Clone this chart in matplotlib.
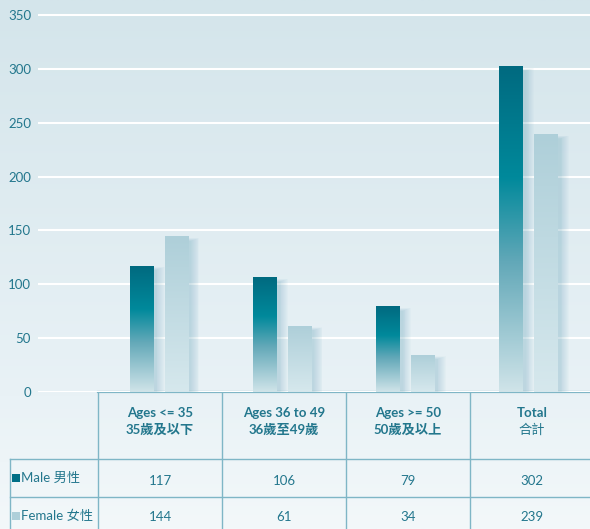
import matplotlib

matplotlib.use("Agg")
import matplotlib.pyplot as plt
import numpy as np
from matplotlib.colors import LinearSegmentedColormap
from matplotlib.patches import Rectangle

plt.rcParams["font.family"] = ["Lato", "Noto Sans CJK TC", "DejaVu Sans"]

# data
groups_en = ["Ages <= 35", "Ages 36 to 49", "Ages >= 50", "Total"]
groups_zh = ["35歲及以下", "36歲至49歲", "50歲及以上", "合計"]
male = [117, 106, 79, 302]
female = [144, 61, 34, 239]
series_labels = ["Male 男性", "Female 女性"]
yticks = [0, 50, 100, 150, 200, 250, 300, 350]

W, H = 590, 529
TEXT = "#23778d"
LINE = "#7fb6c6"
MALE_SOLID = "#006f86"
FEMALE_SOLID = "#aecfd9"

male_cmap = LinearSegmentedColormap.from_list(
    "male", [(0.0, "#d0e4e9"), (0.4, "#62a8b8"), (0.66, "#00899b"), (1.0, "#006a80")]
)
female_cmap = LinearSegmentedColormap.from_list("female", [(0.0, "#d6e8ed"), (1.0, "#aecfd9")])
bg_cmap = LinearSegmentedColormap.from_list(
    "bg", [(0.0, "#d4e5eb"), (0.75, "#e9f2f6"), (1.0, "#f3f8fa")]
)

fig = plt.figure(figsize=(W / 100, H / 100), dpi=100)

# background, pixel coordinates
bg = fig.add_axes([0, 0, 1, 1], zorder=0)
grad = np.linspace(0, 1, 256).reshape(-1, 1)
bg.imshow(grad, cmap=bg_cmap, aspect="auto", extent=[0, W, H, 0])
bg.set_xlim(0, W)
bg.set_ylim(H, 0)
bg.axis("off")

# chart axes
px_per_unit = 124.0
ax_left = 38
x_lo = -0.5 - (98 - ax_left) / px_per_unit
ax = fig.add_axes([ax_left / W, (H - 392) / H, (W - ax_left) / W, 379 / H], zorder=1)
ax.set_facecolor("none")

bar_w = 24 / px_per_unit
offset = 17.5 / px_per_unit
vgrad = np.linspace(0, 1, 256).reshape(-1, 1)


def draw_bar(xc, h, cmap):
    x0 = xc - bar_w / 2
    # soft shadow, stacked translucent layers
    for k in range(1, 11):
        ax.add_patch(
            Rectangle(
                (x0 + 2 / px_per_unit, 0),
                bar_w + k * 0.9 / px_per_unit,
                max(h - 4 + k * 0.3, 0),
                facecolor="#5a9fb4",
                edgecolor="none",
                alpha=0.03,
                zorder=2,
            )
        )
    ax.imshow(
        vgrad, cmap=cmap, aspect="auto", origin="lower",
        extent=[x0, x0 + bar_w, 0, h], zorder=3,
    )


for i in range(len(groups_en)):
    draw_bar(i - offset, male[i], male_cmap)
    draw_bar(i + offset, female[i], female_cmap)

ax.set_xlim(x_lo, 3.5)
ax.set_ylim(0, 352)
ax.set_yticks(yticks)
ax.set_xticks([])
ax.tick_params(axis="y", length=0, pad=5, labelcolor=TEXT, labelsize=9.5)
ax.yaxis.grid(True, color="white", linewidth=1.5)
ax.set_axisbelow(True)
for s in ax.spines.values():
    s.set_visible(False)

# table, drawn in pixel coordinates on the background axes
col_edges = [98 + px_per_unit * i for i in range(len(groups_en) + 1)]
top_y, row1_y, row2_y = 392, 459, 497
bg.plot([98, W], [top_y, top_y], color=LINE, lw=1.6, zorder=5)
bg.plot([10, W], [row1_y, row1_y], color=LINE, lw=1.0, zorder=5)
bg.plot([10, W], [row2_y, row2_y], color=LINE, lw=1.0, zorder=5)
bg.plot([10, 10], [row1_y, H], color=LINE, lw=1.0, zorder=5)
for xe in col_edges[:-1]:
    bg.plot([xe, xe], [top_y, H], color=LINE, lw=1.0, zorder=5)

for i in range(len(groups_en)):
    xc = (col_edges[i] + col_edges[i + 1]) / 2
    bg.text(xc, 413, groups_en[i], ha="center", va="center", fontsize=9.5,
            fontweight="bold", color=TEXT, zorder=6)
    bg.text(xc, 430, groups_zh[i], ha="center", va="center", fontsize=9.5,
            fontweight="normal" if i == 3 else "bold", color=TEXT, zorder=6)
    bg.text(xc, 481, str(male[i]), ha="center", va="center", fontsize=9.5,
            color=TEXT, zorder=6)
    bg.text(xc, 517, str(female[i]), ha="center", va="center", fontsize=9.5,
            color=TEXT, zorder=6)

for label, y, sq in [(series_labels[0], 478, MALE_SOLID), (series_labels[1], 516, FEMALE_SOLID)]:
    bg.add_patch(Rectangle((12, y - 4), 8, 8, facecolor=sq, edgecolor="none", zorder=6))
    bg.text(21, y, label, ha="left", va="center", fontsize=9.5, color=TEXT, zorder=6)

fig.savefig("out.png", dpi=100)
